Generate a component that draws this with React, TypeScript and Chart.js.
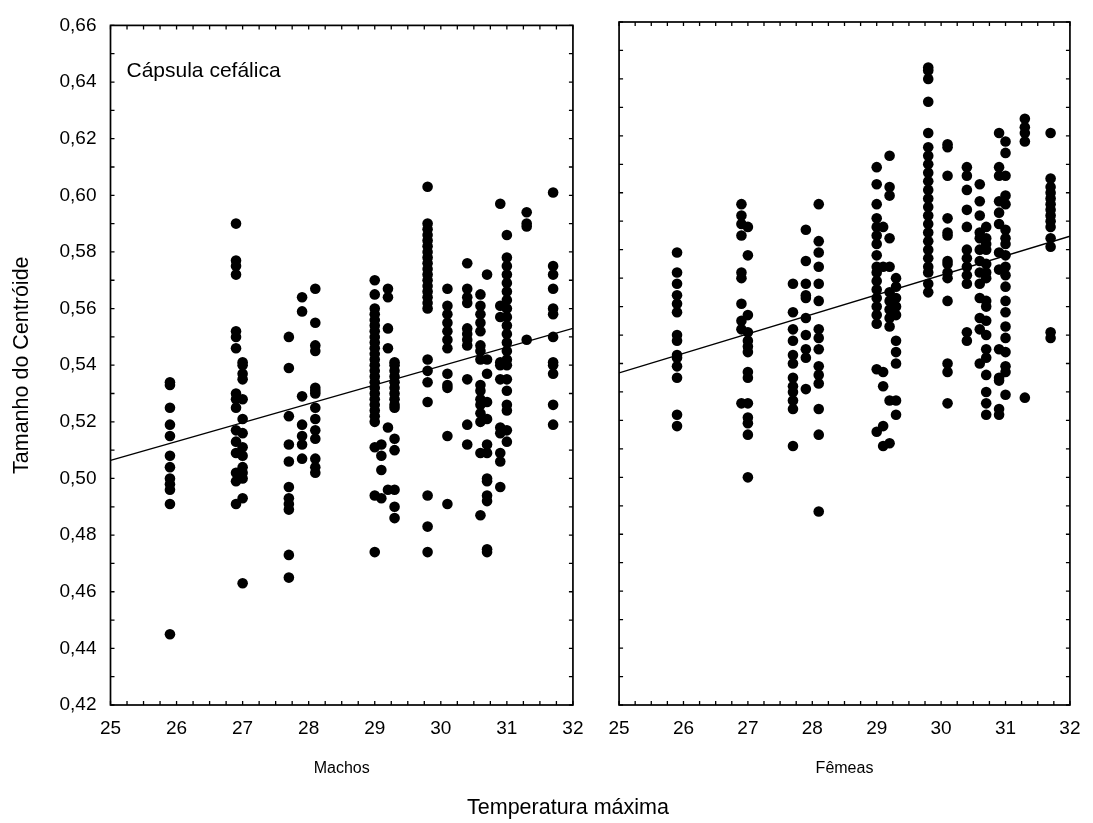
import React, { useEffect, useRef } from "react";
import { Chart, registerables } from "chart.js";

Chart.register(...registerables);

const FONT = "'Liberation Sans', Arial, Helvetica, sans-serif";

// Axis ranges and tick labels
const xMin = 25;
const xMax = 32;
const yMin = 0.42;
const yMax = 0.66;
const xStep = 1;
const yStep = 0.02;
const xMinorStep = 0.25;
const yMinorStep = 0.01;

// Text
const yTitle = "Tamanho do Centróide";
const xTitle = "Temperatura máxima";
const panelTitles = ["Machos", "Fêmeas"];
const annotation = "Cápsula cefálica";

// Machos (left panel): temperature columns and centroid sizes
const machosTemps = [25.9, 26.9, 27.0, 27.7, 27.9, 28.1, 29.0, 29.1, 29.2, 29.3, 29.8, 30.1, 30.4, 30.6, 30.7, 30.9, 31.0, 31.3, 31.7];
const machosValues: number[][] = [
  [0.534, 0.533, 0.525, 0.519, 0.515, 0.508, 0.504, 0.500, 0.498, 0.496, 0.491, 0.445],
  [0.590, 0.577, 0.575, 0.572, 0.552, 0.550, 0.546, 0.530, 0.528, 0.525, 0.517, 0.513, 0.509, 0.502, 0.499, 0.491],
  [0.541, 0.540, 0.537, 0.535, 0.528, 0.521, 0.516, 0.511, 0.508, 0.504, 0.502, 0.500, 0.493, 0.463],
  [0.550, 0.539, 0.522, 0.512, 0.506, 0.497, 0.493, 0.491, 0.489, 0.473, 0.465],
  [0.564, 0.559, 0.529, 0.519, 0.515, 0.512, 0.507],
  [0.567, 0.555, 0.547, 0.545, 0.532, 0.531, 0.530, 0.525, 0.521, 0.517, 0.514, 0.507, 0.504, 0.502],
  [0.570, 0.565, 0.560, 0.558, 0.556, 0.554, 0.552, 0.550, 0.548, 0.546, 0.544, 0.542, 0.540, 0.538, 0.536, 0.534, 0.532, 0.530, 0.528, 0.526, 0.524, 0.522, 0.520, 0.511, 0.494, 0.474],
  [0.512, 0.508, 0.503, 0.493],
  [0.567, 0.564, 0.553, 0.546, 0.518, 0.496],
  [0.541, 0.540, 0.538, 0.536, 0.534, 0.532, 0.530, 0.528, 0.526, 0.525, 0.514, 0.510, 0.496, 0.490, 0.486],
  [0.603, 0.590, 0.588, 0.586, 0.584, 0.582, 0.580, 0.578, 0.576, 0.574, 0.572, 0.570, 0.568, 0.566, 0.564, 0.562, 0.560, 0.542, 0.538, 0.534, 0.527, 0.494, 0.483, 0.474],
  [0.567, 0.561, 0.558, 0.555, 0.552, 0.549, 0.546, 0.537, 0.533, 0.532, 0.515, 0.491],
  [0.576, 0.567, 0.564, 0.562, 0.553, 0.551, 0.549, 0.547, 0.535, 0.519, 0.512],
  [0.565, 0.561, 0.558, 0.555, 0.552, 0.547, 0.545, 0.542, 0.533, 0.531, 0.528, 0.526, 0.523, 0.520, 0.509, 0.487],
  [0.572, 0.542, 0.537, 0.527, 0.521, 0.512, 0.509, 0.500, 0.499, 0.494, 0.492, 0.475, 0.474],
  [0.597, 0.561, 0.557, 0.541, 0.540, 0.535, 0.518, 0.516, 0.509, 0.506, 0.497],
  [0.586, 0.578, 0.575, 0.572, 0.569, 0.566, 0.563, 0.560, 0.557, 0.554, 0.551, 0.548, 0.545, 0.542, 0.540, 0.535, 0.531, 0.526, 0.524, 0.517, 0.513],
  [0.594, 0.590, 0.589, 0.549],
  [0.601, 0.575, 0.572, 0.567, 0.560, 0.558, 0.550, 0.541, 0.540, 0.537, 0.526, 0.519],
];

// Fêmeas (right panel)
const femeasTemps = [25.9, 26.9, 27.0, 27.7, 27.9, 28.1, 29.0, 29.1, 29.2, 29.3, 29.8, 30.1, 30.4, 30.6, 30.7, 30.9, 31.0, 31.3, 31.7];
const femeasValues: number[][] = [
  [0.579, 0.572, 0.568, 0.564, 0.561, 0.558, 0.550, 0.548, 0.543, 0.542, 0.539, 0.535, 0.522, 0.518],
  [0.596, 0.592, 0.589, 0.585, 0.572, 0.570, 0.561, 0.555, 0.552, 0.526],
  [0.588, 0.578, 0.557, 0.551, 0.548, 0.546, 0.544, 0.537, 0.535, 0.526, 0.521, 0.519, 0.515, 0.500],
  [0.568, 0.558, 0.552, 0.548, 0.543, 0.540, 0.535, 0.532, 0.530, 0.527, 0.524, 0.511],
  [0.587, 0.576, 0.568, 0.564, 0.563, 0.556, 0.550, 0.545, 0.542, 0.531],
  [0.596, 0.583, 0.579, 0.574, 0.568, 0.562, 0.552, 0.549, 0.545, 0.539, 0.536, 0.533, 0.524, 0.515, 0.488],
  [0.609, 0.603, 0.596, 0.591, 0.588, 0.585, 0.582, 0.578, 0.574, 0.572, 0.569, 0.566, 0.563, 0.560, 0.557, 0.554, 0.538, 0.516],
  [0.588, 0.574, 0.537, 0.532, 0.518, 0.511],
  [0.613, 0.602, 0.599, 0.584, 0.574, 0.565, 0.562, 0.559, 0.556, 0.553, 0.527, 0.512],
  [0.570, 0.567, 0.563, 0.560, 0.557, 0.548, 0.544, 0.540, 0.527, 0.522],
  [0.644, 0.643, 0.640, 0.632, 0.621, 0.616, 0.613, 0.610, 0.607, 0.604, 0.601, 0.598, 0.595, 0.592, 0.589, 0.586, 0.583, 0.580, 0.577, 0.574, 0.572, 0.568, 0.565],
  [0.617, 0.616, 0.606, 0.591, 0.586, 0.585, 0.576, 0.575, 0.572, 0.570, 0.562, 0.540, 0.537, 0.526],
  [0.609, 0.606, 0.601, 0.594, 0.588, 0.580, 0.577, 0.574, 0.571, 0.568, 0.551, 0.548],
  [0.603, 0.597, 0.592, 0.586, 0.584, 0.580, 0.576, 0.572, 0.568, 0.563, 0.556, 0.552, 0.540],
  [0.588, 0.584, 0.582, 0.580, 0.575, 0.572, 0.570, 0.562, 0.560, 0.555, 0.550, 0.545, 0.542, 0.536, 0.530, 0.526, 0.522],
  [0.621, 0.609, 0.606, 0.597, 0.593, 0.589, 0.579, 0.573, 0.545, 0.535, 0.534, 0.524, 0.522],
  [0.618, 0.614, 0.606, 0.599, 0.596, 0.587, 0.584, 0.582, 0.578, 0.574, 0.571, 0.567, 0.562, 0.558, 0.553, 0.549, 0.544, 0.539, 0.537, 0.529],
  [0.626, 0.623, 0.621, 0.618, 0.528],
  [0.621, 0.605, 0.602, 0.600, 0.598, 0.596, 0.594, 0.592, 0.590, 0.588, 0.584, 0.581, 0.551, 0.549],
];

// Fitted regression lines (read at the x-axis ends)
const lineX = [25, 32];
const machosLineY = [0.5064, 0.553];
const femeasLineY = [0.5367, 0.5847];

function toPoints(temps: number[], values: number[][]) {
  const pts: { x: number; y: number }[] = [];
  temps.forEach((t, i) => values[i].forEach((v) => pts.push({ x: t, y: v })));
  return pts;
}

const frameTicksPlugin = {
  id: "frameTicks",
  afterDatasetsDraw(chart: any) {
    const { ctx, chartArea } = chart;
    const { left, right, top, bottom } = chartArea;
    const xs = chart.scales.x;
    const ys = chart.scales.y;
    const len = 4;
    ctx.save();
    ctx.strokeStyle = "#000";
    ctx.lineWidth = 1.3;
    ctx.beginPath();
    const nx = Math.round((xMax - xMin) / xMinorStep);
    for (let k = 0; k <= nx; k++) {
      const px = xs.getPixelForValue(xMin + k * xMinorStep);
      ctx.moveTo(px, bottom);
      ctx.lineTo(px, bottom - len);
      ctx.moveTo(px, top);
      ctx.lineTo(px, top + len);
    }
    const ny = Math.round((yMax - yMin) / yMinorStep);
    for (let k = 0; k <= ny; k++) {
      const py = ys.getPixelForValue(yMin + k * yMinorStep);
      ctx.moveTo(left, py);
      ctx.lineTo(left + len, py);
      ctx.moveTo(right, py);
      ctx.lineTo(right - len, py);
    }
    ctx.stroke();
    ctx.lineWidth = 1.7;
    ctx.strokeRect(left, top, right - left, bottom - top);
    ctx.restore();
  },
};

const annotationPlugin = {
  id: "panelAnnotation",
  afterDraw(chart: any) {
    const txt = chart.options.plugins?.panelAnnotation?.text;
    if (!txt) return;
    const { ctx, chartArea } = chart;
    ctx.save();
    ctx.fillStyle = "#000";
    ctx.font = `21px ${FONT}`;
    ctx.textAlign = "left";
    ctx.textBaseline = "alphabetic";
    ctx.fillText(txt, chartArea.left + 16, 76.5);
    ctx.restore();
  },
};

type PanelProps = {
  left: number;
  width: number;
  height: number;
  yWidth: number;
  rightPad: number;
  showY: boolean;
  title: string;
  temps: number[];
  values: number[][];
  lineY: number[];
  note?: string;
};

function Panel(p: PanelProps) {
  const ref = useRef<HTMLCanvasElement | null>(null);
  useEffect(() => {
    if (!ref.current) return;
    const chart = new Chart(ref.current, {
      type: "scatter",
      data: {
        datasets: [
          {
            data: lineX.map((x, i) => ({ x, y: p.lineY[i] })),
            showLine: true,
            borderColor: "#000",
            borderWidth: 1.4,
            pointRadius: 0,
            pointHoverRadius: 0,
          } as any,
          {
            data: toPoints(p.temps, p.values),
            backgroundColor: "#000",
            borderColor: "#000",
            borderWidth: 0,
            pointRadius: 5.3,
            pointHoverRadius: 5.3,
          },
        ],
      },
      options: {
        animation: false,
        responsive: false,
        maintainAspectRatio: false,
        events: [],
        layout: { autoPadding: false, padding: { left: 0, top: 22, right: p.rightPad, bottom: 0 } },
        plugins: {
          legend: { display: false },
          tooltip: { enabled: false },
          panelAnnotation: { text: p.note },
        } as any,
        scales: {
          x: {
            type: "linear",
            min: xMin,
            max: xMax,
            grid: { display: false, drawTicks: false },
            border: { display: false },
            ticks: {
              stepSize: xStep,
              padding: 12.5,
              color: "#000",
              font: { family: FONT, size: 19 },
              maxRotation: 0,
              autoSkip: false,
              callback: (v: any) => String(v),
            },
            title: {
              display: true,
              text: p.title,
              color: "#000",
              font: { family: FONT, size: 16 },
              padding: { top: 0, bottom: 45 },
            },
            afterFit: (s: any) => {
              s.height = 118;
            },
          },
          y: {
            type: "linear",
            min: yMin,
            max: yMax,
            grid: { display: false, drawTicks: false },
            border: { display: false },
            ticks: {
              display: p.showY,
              stepSize: yStep,
              padding: 14,
              color: "#000",
              font: { family: FONT, size: 19 },
              callback: (v: any) => Number(v).toFixed(2).replace(".", ","),
            },
            title: {
              display: p.showY,
              text: yTitle,
              color: "#000",
              font: { family: FONT, size: 21.5 },
              padding: { top: 9, bottom: 0 },
            },
            afterFit: (s: any) => {
              s.width = p.yWidth;
            },
          },
        },
      },
      plugins: [frameTicksPlugin, annotationPlugin],
    } as any);
    return () => chart.destroy();
  }, []);
  return (
    <canvas
      ref={ref}
      width={p.width}
      height={p.height}
      style={{ position: "absolute", left: p.left, top: 0, width: p.width, height: p.height }}
    />
  );
}

export default function App() {
  return (
    <div style={{ position: "fixed", left: 0, top: 0, width: 1093, height: 823, background: "#fff", overflow: "hidden" }}>
      <Panel
        left={0}
        width={596}
        height={823}
        yWidth={110.5}
        rightPad={21.7}
        showY={true}
        title={panelTitles[0]}
        temps={machosTemps}
        values={machosValues}
        lineY={machosLineY}
        note={annotation}
      />
      <Panel
        left={596}
        width={497}
        height={823}
        yWidth={20.7}
        rightPad={14}
        showY={false}
        title={panelTitles[1]}
        temps={femeasTemps}
        values={femeasValues}
        lineY={femeasLineY}
      />
      <div
        style={{
          position: "absolute",
          left: 368,
          top: 796.8,
          width: 400,
          textAlign: "center",
          fontFamily: FONT,
          fontSize: "21.5px",
          lineHeight: 1,
          color: "#000",
          whiteSpace: "nowrap",
        }}
      >
        {xTitle}
      </div>
    </div>
  );
}
